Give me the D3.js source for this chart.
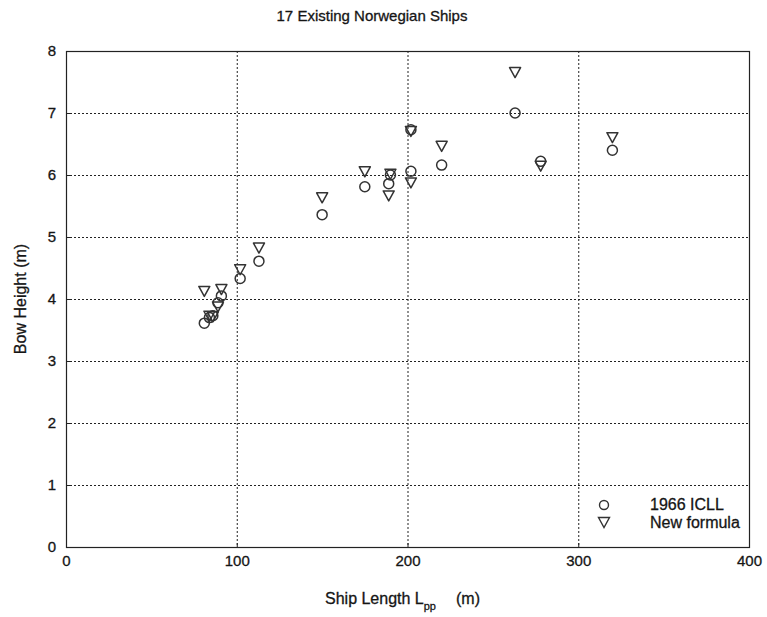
<!DOCTYPE html>
<html>
<head>
<meta charset="utf-8">
<script src="https://cdn.jsdelivr.net/npm/d3@7"></script>
<style>
  html, body { margin: 0; padding: 0; background: #fff; }
  svg text { font-family: Arial, "Liberation Sans", sans-serif; fill: #151515; stroke: #151515; stroke-width: 0.3px; }
</style>
</head>
<body>
<svg id="chart" width="767" height="617"></svg>
<script>
// Ship length between perpendiculars (m) for the 17 ships
const shipLength = [81, 84, 86, 89, 91, 102, 113, 150, 175, 189, 190, 202, 202, 220, 263, 278, 320];
// Bow height by the 1966 ICLL rule (m)
const icll = [3.61, 3.70, 3.73, 3.94, 4.05, 4.33, 4.61, 5.36, 5.81, 5.86, 6.00, 6.06, 6.73, 6.16, 7.00, 6.22, 6.40];
// Bow height by the new formula (m)
const newFormula = [4.13, 3.73, 3.72, 3.88, 4.16, 4.48, 4.83, 5.64, 6.06, 5.67, 6.02, 5.88, 6.71, 6.47, 7.66, 6.15, 6.61];
const xTicks = [0, 100, 200, 300, 400];
const yTicks = [0, 1, 2, 3, 4, 5, 6, 7, 8];

const svg = d3.select("#chart");
const plotLeft = 66, plotRight = 749, plotTop = 51, plotBottom = 547;
const fontSize = "15px";

const x = d3.scaleLinear().domain([0, 400]).range([plotLeft, plotRight]);
const y = d3.scaleLinear().domain([0, 8]).range([plotBottom, plotTop]);

// Dotted grid
const grid = svg.append("g").attr("stroke", "#222").attr("stroke-width", 1)
  .attr("stroke-dasharray", "2,2");
grid.selectAll(".gx").data(xTicks.slice(1, -1)).join("line")
  .attr("x1", d => x(d) + 0.5).attr("x2", d => x(d) + 0.5)
  .attr("y1", plotTop).attr("y2", plotBottom);
grid.selectAll(".gy").data(yTicks.slice(1, -1)).join("line")
  .attr("x1", plotLeft).attr("x2", plotRight)
  .attr("y1", d => Math.round(y(d)) + 0.5).attr("y2", d => Math.round(y(d)) + 0.5);

// Axes with inward ticks
const xAxis = svg.append("g").attr("transform", `translate(0,${plotBottom})`)
  .call(d3.axisBottom(x).tickValues(xTicks).tickSize(-4).tickPadding(8).tickFormat(d3.format("d")));
const yAxis = svg.append("g").attr("transform", `translate(${plotLeft},0)`)
  .call(d3.axisLeft(y).tickValues(yTicks).tickSize(-4).tickPadding(10).tickFormat(d3.format("d")));
[xAxis, yAxis].forEach(a => {
  a.select(".domain").remove();
  a.selectAll("line").attr("stroke", "#222");
  a.selectAll("text").style("font-size", fontSize).attr("fill", "#151515");
});

// Frame
svg.append("rect").attr("x", plotLeft + 0.5).attr("y", plotTop + 0.5)
  .attr("width", plotRight - plotLeft).attr("height", plotBottom - plotTop)
  .attr("fill", "none").attr("stroke", "#222").attr("stroke-width", 1.2);

const pts = shipLength.map((L, i) => ({ L, a: icll[i], b: newFormula[i] }));
const markerStroke = "#333";

// 1966 ICLL: open circles
svg.append("g").selectAll("circle").data(pts).join("circle")
  .attr("cx", d => x(d.L)).attr("cy", d => y(d.a)).attr("r", 5)
  .attr("fill", "none").attr("stroke", markerStroke).attr("stroke-width", 1.5);

// New formula: open down-pointing triangles
const tri = (cx, cy) => `M${cx - 5.5},${cy - 4.5}L${cx + 5.5},${cy - 4.5}L${cx},${cy + 5.5}Z`;
svg.append("g").selectAll("path").data(pts).join("path")
  .attr("d", d => tri(x(d.L), y(d.b)))
  .attr("fill", "none").attr("stroke", markerStroke).attr("stroke-width", 1.5)
  .attr("stroke-linejoin", "round");

// Legend
const lg = svg.append("g");
lg.append("circle").attr("cx", 604).attr("cy", 505).attr("r", 4.5)
  .attr("fill", "none").attr("stroke", markerStroke).attr("stroke-width", 1.4);
lg.append("path").attr("d", tri(604, 522))
  .attr("fill", "none").attr("stroke", markerStroke).attr("stroke-width", 1.4);
lg.append("text").attr("x", 650).attr("y", 510).text("1966 ICLL")
  .style("font-size", "16px");
lg.append("text").attr("x", 650).attr("y", 528).text("New formula")
  .style("font-size", "16px");

// Title
svg.append("text").attr("x", 372).attr("y", 21).attr("text-anchor", "middle")
  .style("font-size", fontSize).text("17 Existing Norwegian Ships");

// Y label
svg.append("text").attr("transform", "translate(26,299) rotate(-90)")
  .attr("text-anchor", "middle").style("font-size", "16px")
  .text("Bow Height  (m)");

// X label with subscript
const xl = svg.append("text").attr("x", 325).attr("y", 604)
  .style("font-size", "16px");
xl.append("tspan").text("Ship Length L");
xl.append("tspan").attr("dy", 6).style("font-size", "11px").attr("fill", "#151515").text("pp");
xl.append("tspan").attr("dy", -6).attr("dx", 20).text("(m)");
</script>
</body>
</html>
